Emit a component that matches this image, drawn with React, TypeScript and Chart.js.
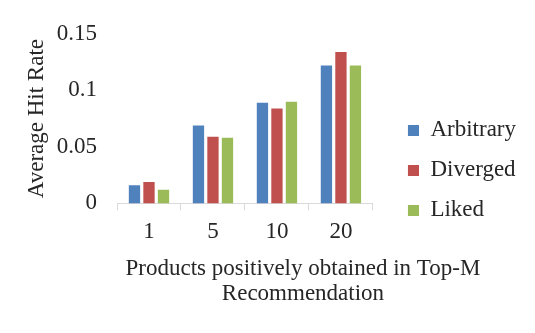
import React, { useEffect, useRef } from "react";
import { Chart, registerables } from "chart.js";

Chart.register(...registerables);

const categories = ["1", "5", "10", "20"];
const arbitrary = [0.016, 0.069, 0.089, 0.122];
const diverged = [0.019, 0.059, 0.084, 0.134];
const liked = [0.012, 0.058, 0.09, 0.122];
const seriesNames = ["Arbitrary", "Diverged", "Liked"];
const seriesColors = ["#4f81bd", "#c0504d", "#9bbb59"];
const xTitleLines = ["Products positively obtained in Top-M", "Recommendation"];
const yTitle = "Average Hit Rate";

const FONT = "'Liberation Serif', serif";
const TEXT = "#262626";
const FONT_SIZE = 23;
const SWATCH = 11;
const SWATCH_LEAD = 18;

Chart.defaults.font.family = FONT;
Chart.defaults.color = TEXT;

// Legend swatch: a square sitting at the right end of a wider transparent strip,
// which leaves some air between the plot and the legend.
function makeSwatch(color: string): HTMLCanvasElement {
  const c = document.createElement("canvas");
  c.width = SWATCH + SWATCH_LEAD;
  c.height = SWATCH;
  const g = c.getContext("2d")!;
  g.fillStyle = color;
  g.fillRect(SWATCH_LEAD, 0, SWATCH, SWATCH);
  return c;
}

// Two-line x-axis title drawn below the tick labels, free of the scale's width limit.
const xTitlePlugin = {
  id: "xTitleLines",
  afterDraw(chart: any) {
    const { ctx, chartArea } = chart;
    const xScale = chart.scales.x;
    const cx = (chartArea.left + chartArea.right) / 2 + 58;
    ctx.save();
    ctx.font = `${FONT_SIZE}px ${FONT}`;
    ctx.fillStyle = TEXT;
    ctx.textAlign = "center";
    ctx.textBaseline = "middle";
    xTitleLines.forEach((line, i) => {
      ctx.fillText(line, cx, xScale.top + 66 + i * 25);
    });
    ctx.restore();
  },
};

export default function App() {
  const ref = useRef<HTMLCanvasElement | null>(null);

  useEffect(() => {
    if (!ref.current) return;
    const values = [arbitrary, diverged, liked];
    const swatches = seriesColors.map(makeSwatch);
    const chart = new Chart(ref.current, {
      type: "bar",
      data: {
        labels: categories,
        datasets: seriesNames.map((name, i) => ({
          label: name,
          data: values[i],
          backgroundColor: seriesColors[i],
          borderWidth: 0,
          categoryPercentage: 0.68,
          barPercentage: 0.78,
        })),
      },
      options: {
        responsive: false,
        animation: false,
        layout: { padding: { left: 19, right: 9, top: 20, bottom: 13 } },
        plugins: {
          tooltip: { enabled: false },
          legend: {
            position: "right",
            maxWidth: 200,
            labels: {
              usePointStyle: true,
              pointStyleWidth: SWATCH + SWATCH_LEAD,
              boxHeight: SWATCH,
              padding: 17,
              color: TEXT,
              font: { family: FONT, size: FONT_SIZE },
              generateLabels: (c: any) =>
                Chart.defaults.plugins.legend.labels
                  .generateLabels(c)
                  .map((item: any, i: number) => ({ ...item, pointStyle: swatches[i] })),
            },
          },
        },
        scales: {
          x: {
            grid: {
              display: true,
              drawOnChartArea: false,
              drawTicks: true,
              tickLength: 7,
              color: "#d9d9d9",
              offset: true,
            },
            border: { display: true, color: "#d9d9d9" },
            ticks: { color: TEXT, font: { family: FONT, size: FONT_SIZE }, padding: 8 },
            title: { display: false },
            afterFit: (scale: any) => {
              scale.height += 66;
            },
          },
          y: {
            min: 0,
            max: 0.15,
            grid: { display: false, drawTicks: false },
            border: { display: false },
            ticks: {
              stepSize: 0.05,
              color: TEXT,
              font: { family: FONT, size: FONT_SIZE },
              padding: 20,
              callback: (v: any) => String(Math.round(Number(v) * 100) / 100),
            },
            title: {
              display: true,
              text: yTitle,
              color: TEXT,
              font: { family: FONT, size: FONT_SIZE },
              padding: { top: 4, bottom: 2 },
            },
            afterFit: (scale: any) => {
              scale.width = 98;
            },
          },
        },
      },
      plugins: [xTitlePlugin],
    });
    return () => chart.destroy();
  }, []);

  return (
    <div style={{ position: "fixed", left: 0, top: 0, width: 535, height: 333, background: "#fff" }}>
      <canvas ref={ref} width={535} height={333} />
    </div>
  );
}
